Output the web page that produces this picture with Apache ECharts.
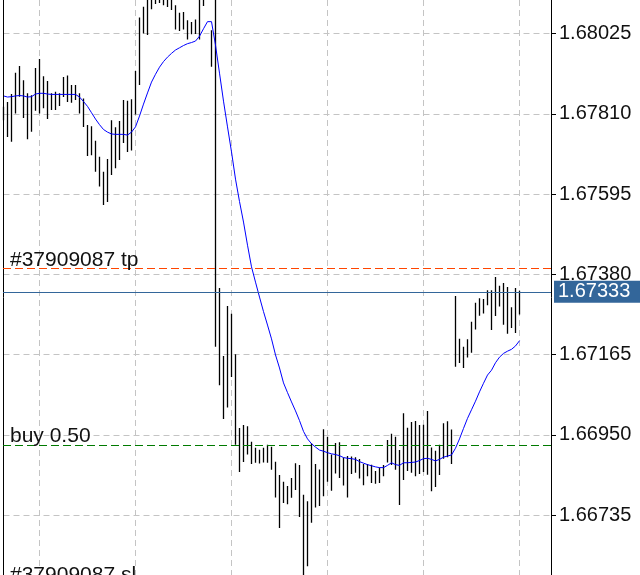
<!DOCTYPE html>
<html>
<head>
<meta charset="utf-8">
<script src="https://cdn.jsdelivr.net/npm/echarts@6/dist/echarts.min.js"></script>
<style>
  html, body { margin: 0; padding: 0; background: #fff; overflow: hidden; }
  /* the plot runs a little past the left and bottom edges of the window,
     so the axis can start on a whole step */
  #chart { position: absolute; left: -57px; top: 0; width: 697px; height: 596px; }
</style>
</head>
<body>
<div id="chart"></div>
<script>
// bar numbers: first visible bar is -9, the vertical grid falls every 24 bars
const firstBar = -9
// high / low of each bar
const highs = [
  1.67829, 1.67842, 1.67863, 1.67920, 1.67938, 1.67900, 1.67865, 1.67860, 1.67933,
  1.67957, 1.67911, 1.67898, 1.67865, 1.67869, 1.67865, 1.67909, 1.67913, 1.67887,
  1.67887, 1.67865, 1.67851, 1.67780, 1.67777, 1.67738, 1.67695, 1.67655, 1.67689,
  1.67793, 1.67774, 1.67791, 1.67847, 1.67845, 1.67849, 1.67925, 1.68068, 1.68097,
  1.68125, 1.68130, 1.68140, 1.68135, 1.68138, 1.68132, 1.68128, 1.68101, 1.68081,
  1.68083, 1.68061, 1.68056, 1.68063, 1.68125, 1.68140, 1.68150, 1.68034, 1.68120,
  1.67343, 1.67161, 1.67295, 1.67274, 1.67166, 1.66968, 1.66976, 1.66973, 1.66931,
  1.66915, 1.66910, 1.66915, 1.66923, 1.66918, 1.66878, 1.66842, 1.66824, 1.66813,
  1.66834, 1.66874, 1.66869, 1.66789, 1.66772, 1.66927, 1.66872, 1.66857, 1.66965,
  1.66945, 1.66897, 1.66928, 1.66930, 1.66889, 1.66893, 1.66892, 1.66890, 1.66885,
  1.66872, 1.66872, 1.66870, 1.66853, 1.66862, 1.66869, 1.66936, 1.66953, 1.66945,
  1.66909, 1.67008, 1.66969, 1.66984, 1.66987, 1.66976, 1.66977, 1.67014, 1.66916,
  1.66907, 1.66923, 1.66981, 1.66986, 1.66964, 1.67322, 1.67207, 1.67186, 1.67206,
  1.67253, 1.67304, 1.67316, 1.67314, 1.67337, 1.67337, 1.67373, 1.67349, 1.67357,
  1.67346, 1.67292, 1.67343, 1.67336
]
const lows = [
  1.67793, 1.67748, 1.67735, 1.67811, 1.67856, 1.67799, 1.67742, 1.67762, 1.67818,
  1.67811, 1.67825, 1.67796, 1.67820, 1.67820, 1.67831, 1.67855, 1.67842, 1.67840,
  1.67847, 1.67811, 1.67775, 1.67697, 1.67699, 1.67655, 1.67615, 1.67566, 1.67574,
  1.67646, 1.67664, 1.67686, 1.67732, 1.67708, 1.67712, 1.67808, 1.67887, 1.68025,
  1.68021, 1.68090, 1.68104, 1.68107, 1.68101, 1.68096, 1.68088, 1.68036, 1.68032,
  1.68036, 1.68009, 1.68023, 1.68024, 1.68009, 1.68099, 1.68120, 1.67936, 1.67186,
  1.67083, 1.66992, 1.67023, 1.67105, 1.66923, 1.66850, 1.66877, 1.66897, 1.66872,
  1.66875, 1.66873, 1.66876, 1.66875, 1.66856, 1.66782, 1.66700, 1.66767, 1.66764,
  1.66781, 1.66802, 1.66730, 1.66570, 1.66598, 1.66714, 1.66755, 1.66759, 1.66785,
  1.66824, 1.66800, 1.66846, 1.66834, 1.66814, 1.66782, 1.66845, 1.66848, 1.66833,
  1.66815, 1.66839, 1.66821, 1.66819, 1.66821, 1.66839, 1.66876, 1.66869, 1.66856,
  1.66762, 1.66829, 1.66853, 1.66848, 1.66839, 1.66845, 1.66850, 1.66843, 1.66799,
  1.66810, 1.66842, 1.66886, 1.66890, 1.66872, 1.67132, 1.67142, 1.67129, 1.67157,
  1.67170, 1.67232, 1.67269, 1.67275, 1.67297, 1.67231, 1.67268, 1.67294, 1.67245,
  1.67221, 1.67236, 1.67223, 1.67272
]
// moving average (blue line)
const maVals = [
  1.67858, 1.67855, 1.67856, 1.67858, 1.67859, 1.67858, 1.67855, 1.67856, 1.67863,
  1.67865, 1.67865, 1.67863, 1.67862, 1.67862, 1.67862, 1.67862, 1.67862, 1.67862,
  1.67862, 1.67855, 1.67843, 1.67830, 1.67813, 1.67796, 1.67781, 1.67768, 1.67761,
  1.67756, 1.67755, 1.67755, 1.67755, 1.67753, 1.67761, 1.67775, 1.67804, 1.67836,
  1.67866, 1.67895, 1.67916, 1.67935, 1.67950, 1.67962, 1.67972, 1.67981, 1.67987,
  1.67993, 1.67998, 1.68001, 1.68005, 1.68018, 1.68038, 1.68057, 1.68057, 1.67994,
  1.67919, 1.67844, 1.67775, 1.67708, 1.67635, 1.67575, 1.67520, 1.67458, 1.67400,
  1.67359, 1.67319, 1.67280, 1.67244, 1.67207, 1.67164, 1.67129, 1.67089, 1.67063,
  1.67038, 1.67014, 1.66988, 1.66959, 1.66939, 1.66926, 1.66917, 1.66909, 1.66906,
  1.66902, 1.66899, 1.66897, 1.66894, 1.66889, 1.66887, 1.66886, 1.66884, 1.66878,
  1.66874, 1.66870, 1.66867, 1.66864, 1.66862, 1.66862, 1.66868, 1.66875, 1.66870,
  1.66868, 1.66875, 1.66875, 1.66876, 1.66877, 1.66881, 1.66886, 1.66887, 1.66884,
  1.66880, 1.66884, 1.66890, 1.66893, 1.66896, 1.66914, 1.66939, 1.66967, 1.66994,
  1.67017, 1.67040, 1.67065, 1.67088, 1.67110, 1.67123, 1.67143, 1.67158, 1.67168,
  1.67174, 1.67179, 1.67188, 1.67202
]
// price levels: take profit, bid, open order, stop loss
const levelNames = ['#37909087 tp', 'bid', 'buy 0.50', '#37909087 sl']
const levelPrices = [1.67396, 1.67333, 1.66923, 1.66550]
// price axis
const priceTicks = [1.66735, 1.66950, 1.67165, 1.67380, 1.67595, 1.67810, 1.68025]
const priceMax = 1.68115

// the axis works in points above the lowest tick; ticks are counted from
// min, so min is one step under it
const basePrice = priceTicks[0]
const step = Math.round((priceTicks[1] - priceTicks[0]) * 1e5)
const toPts = p => Math.round((p - basePrice) * 1e6) / 10

const xMin = -24
const xMax = 127.875
const frameX = firstBar - 0.125

const barData = highs.map((h, i) => [firstBar + i, toPts(h), toPts(lows[i])])
const maData = maVals.map((m, i) => [firstBar + i, toPts(m)])

const labelFont = { fontFamily: 'Liberation Sans', fontSize: 21, color: '#111' }
const lineStyles = [
  { color: '#ff4500', type: [8, 4], width: 1 },
  { color: '#33669a', type: 'solid', width: 1 },
  { color: '#007a00', type: [8, 4], width: 1 },
  { color: '#ff0000', type: [8, 4], width: 1 }
]
const levelLines = levelPrices.map((p, i) => {
  const y = toPts(p)
  let label
  if (levelNames[i] === 'bid') {
    label = {
      position: 'end',
      distance: 3,
      formatter: p.toFixed(5),
      color: '#fff',
      backgroundColor: '#33669a',
      fontFamily: 'Liberation Sans',
      fontSize: 20,
      lineHeight: 20,
      padding: [1, 14, 1, 4]
    }
  } else {
    label = Object.assign({
      position: 'insideStartTop',
      distance: [7, -2],
      formatter: levelNames[i]
    }, labelFont)
  }
  return [
    { xAxis: frameX, yAxis: y, lineStyle: lineStyles[i], label: label },
    { xAxis: xMax, yAxis: y }
  ]
})

const gridLine = { color: '#c4c4c4', type: [6, 4] }

const chart = echarts.init(document.getElementById('chart'))
chart.setOption({
  animation: false,
  backgroundColor: '#fff',
  grid: { left: 0.5, right: 89, top: 0, bottom: 0.75 },
  xAxis: {
    type: 'value',
    min: xMin,
    max: xMax,
    interval: 24,
    axisLine: { show: false },
    axisTick: { show: false },
    axisLabel: { show: false },
    splitLine: { show: true, showMinLine: false, showMaxLine: false, lineStyle: gridLine }
  },
  yAxis: {
    type: 'value',
    position: 'right',
    min: -step,
    max: toPts(priceMax),
    interval: step,
    axisLine: { show: true, onZero: false, lineStyle: { color: '#000' } },
    axisTick: { show: true, length: 5, lineStyle: { color: '#000' } },
    axisLabel: {
      margin: 8,
      showMinLabel: false,
      showMaxLabel: false,
      color: '#111',
      fontFamily: 'Liberation Sans',
      fontSize: 20,
      formatter: v => (basePrice + v / 1e5).toFixed(5)
    },
    splitLine: { show: true, showMinLine: false, showMaxLine: false, lineStyle: gridLine }
  },
  series: [{
    name: 'bars',
    type: 'custom',
    clip: true,
    data: barData,
    renderItem: function (params, api) {
      const top = api.coord([api.value(0), api.value(1)])
      const bot = api.coord([api.value(0), api.value(2)])
      return {
        type: 'line',
        shape: { x1: top[0], y1: top[1], x2: bot[0], y2: bot[1] },
        style: { stroke: '#000', lineWidth: 1.3 }
      }
    },
    // left frame of the chart, just before the first bar
    markLine: {
      silent: true,
      symbol: ['none', 'none'],
      label: { show: false },
      lineStyle: { color: '#000', type: 'solid', width: 1 },
      data: [{ xAxis: frameX }]
    }
  }, {
    name: 'ma',
    type: 'line',
    data: maData,
    symbol: 'none',
    lineStyle: { color: '#0000ff', width: 1 },
    markLine: {
      silent: true,
      symbol: ['none', 'none'],
      data: levelLines
    }
  }]
})
</script>
</body>
</html>
